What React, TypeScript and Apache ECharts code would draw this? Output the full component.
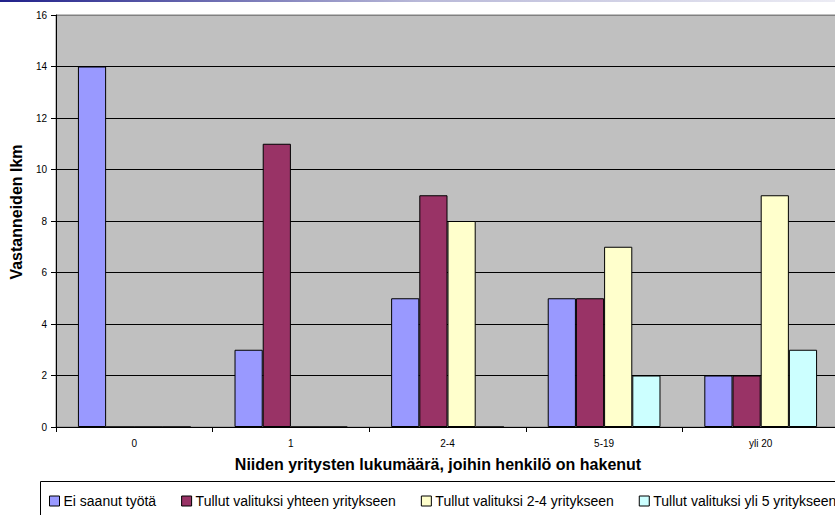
import React, { useEffect, useRef } from "react";
import * as echarts from "echarts";

const categories = ["0", "1", "2-4", "5-19", "yli 20"];
const seriesNames = [
  "Ei saanut työtä",
  "Tullut valituksi yhteen yritykseen",
  "Tullut valituksi 2-4 yritykseen",
  "Tullut valituksi yli 5 yritykseen",
];
const eiSaanut = [14, 3, 5, 5, 2];
const yhteen = [0, 11, 9, 5, 2];
const kaksiNelja = [0, 0, 8, 7, 9];
const yliViisi = [0, 0, 0, 2, 3];
const colors = ["#9999FF", "#993366", "#FFFFCC", "#CCFFFF"];
const yTicks = { min: 0, max: 16, interval: 2 };

export default function App() {
  const ref = useRef<HTMLDivElement>(null);
  useEffect(() => {
    if (!ref.current) return;
    const chart = echarts.init(ref.current, null, { renderer: "svg" });
    const font = "Liberation Sans, Arial, sans-serif";
    const data = [eiSaanut, yhteen, kaksiNelja, yliViisi];
    chart.setOption({
      animation: false,
      backgroundColor: "#ffffff",
      textStyle: { fontFamily: font },
      grid: {
        left: 56,
        top: 15,
        right: -4,
        bottom: 88,
        outerBoundsMode: "none",
        containLabel: false,
        show: true,
        backgroundColor: "#C0C0C0",
        borderColor: "#808080",
        borderWidth: 1,
      },
      graphic: [
        {
          type: "rect",
          shape: { x: 0, y: 0, width: 835, height: 2 },
          style: {
            fill: new echarts.graphic.LinearGradient(0, 0, 1, 0, [
              { offset: 0, color: "#20208a" },
              { offset: 0.5, color: "#b8b8d8" },
              { offset: 1, color: "#ececf4" },
            ]),
          },
          z: 10,
        },
        {
          type: "rect",
          shape: { x: 40.5, y: 481.5, width: 820, height: 50 },
          style: { fill: "#ffffff", stroke: "#000000", lineWidth: 1 },
          z: 0,
        },
      ],
      legend: {
        left: 49,
        top: 494,
        width: 1200,
        padding: 0,
        itemWidth: 10,
        itemHeight: 10,
        itemGap: 25,
        icon: "rect",
        textStyle: { fontFamily: font, fontSize: 14, color: "#000", padding: [0, 0, 0, -1] },
        itemStyle: { borderColor: "#000", borderWidth: 1 },
        data: seriesNames,
        z: 5,
      },
      xAxis: {
        type: "category",
        data: categories,
        name: "Niiden yritysten lukumäärä, joihin henkilö on hakenut",
        nameLocation: "middle",
        nameGap: 29,
        nameTextStyle: {
          fontFamily: font,
          fontSize: 16,
          fontWeight: "bold",
          color: "#000",
          padding: [0, 19, 0, 0],
        },
        axisLine: { lineStyle: { color: "#000", width: 1 } },
        axisTick: { show: true, interval: 0, length: 5, lineStyle: { color: "#000" } },
        axisLabel: { fontFamily: font, fontSize: 10, color: "#000", margin: 11, interval: 0 },
        splitLine: { show: false },
      },
      yAxis: {
        type: "value",
        min: yTicks.min,
        max: yTicks.max,
        interval: yTicks.interval,
        name: "Vastanneiden lkm",
        nameLocation: "middle",
        nameGap: 32,
        nameTextStyle: {
          fontFamily: font,
          fontSize: 16,
          fontWeight: "bold",
          color: "#000",
          padding: [0, 0, 0, 18],
        },
        axisLine: { show: true, lineStyle: { color: "#000", width: 1 } },
        axisTick: { show: true, length: 5, lineStyle: { color: "#000" } },
        axisLabel: { fontFamily: font, fontSize: 10, color: "#000", margin: 9 },
        splitLine: {
          show: true,
          lineStyle: {
            color: ["#000", "#000", "#000", "#000", "#000", "#000", "#000", "#000", "#808080"],
            width: 1,
          },
        },
      },
      series: data.map((d, i) => ({
        name: seriesNames[i],
        type: "bar",
        data: d,
        barGap: "0%",
        barCategoryGap: "28%",
        itemStyle: { color: colors[i], borderColor: "#000", borderWidth: 1 },
      })),
    });
    return () => chart.dispose();
  }, []);
  return (
    <div
      ref={ref}
      style={{ position: "fixed", left: 0, top: 0, width: 835, height: 515 }}
    />
  );
}
